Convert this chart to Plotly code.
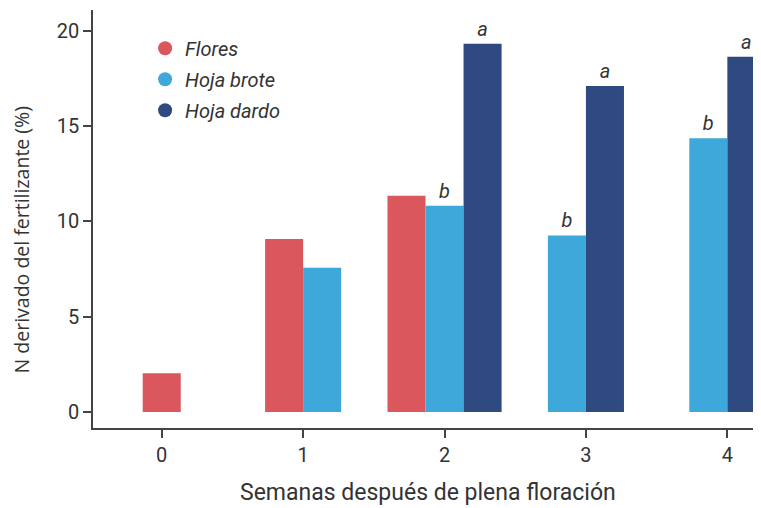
import plotly.graph_objects as go

weeks = [0, 1, 2, 3, 4]
series_names = ["Flores", "Hoja brote", "Hoja dardo"]
flores = [2.03, 9.08, 11.35, None, None]
hoja_brote = [None, 7.57, 10.83, 9.27, 14.37]
hoja_dardo = [None, None, 19.33, 17.11, 18.64]
letters_flores = ["", "", "", "", ""]
letters_brote = ["", "", "b", "b", "b"]
letters_dardo = ["", "", "a", "a", "a"]
colors = ["#D9575D", "#3EA8DA", "#2F4A80"]

all_vals = [flores, hoja_brote, hoja_dardo]
all_letters = [letters_flores, letters_brote, letters_dardo]
bar_w = 0.269

fig = go.Figure()
for s, (name, vals, lets, col) in enumerate(zip(series_names, all_vals, all_letters, colors)):
    offsets = []
    for i in range(len(weeks)):
        present = [j for j in range(len(all_vals)) if all_vals[j][i] is not None]
        if s in present:
            k = present.index(s)
            offsets.append((k - len(present) / 2) * bar_w)
        else:
            offsets.append(0)
    fig.add_trace(go.Bar(
        x=weeks, y=vals, width=bar_w, offset=offsets,
        marker=dict(color=col, line=dict(width=0)),
        text=lets, textposition="outside", constraintext="none",
        textfont=dict(family="Roboto", size=20, color="#333333", style="italic"),
        cliponaxis=False, showlegend=False, name=name,
    ))

for name, col in zip(series_names, colors):
    fig.add_trace(go.Scatter(
        x=[None], y=[None], mode="markers", name=name,
        marker=dict(color=col, size=14, symbol="circle"),
        legendgroup=name,
    ))

fig.update_layout(
    width=761, height=508,
    margin=dict(l=85, r=8, t=2, b=88),
    plot_bgcolor="white", paper_bgcolor="white",
    barmode="overlay",
    font=dict(family="Roboto", color="#333333"),
    legend=dict(
        x=0.078, y=0.955, xanchor="left", yanchor="top",
        font=dict(family="Roboto", size=20, color="#333333", style="italic"),
        tracegroupgap=2, bgcolor="rgba(0,0,0,0)",
    ),
    xaxis=dict(
        range=[-0.486, 4.238], tickmode="array", tickvals=weeks,
        ticktext=[str(w) for w in weeks],
        showline=True, linecolor="#444444", linewidth=1.5,
        ticks="outside", ticklen=8, tickcolor="#444444", tickwidth=1.5,
        showgrid=False, zeroline=False,
        tickfont=dict(size=20, color="#333333"),
    ),
    yaxis=dict(
        range=[-0.84, 21.1], tickvals=[0, 5, 10, 15, 20],
        showline=True, linecolor="#444444", linewidth=1.5,
        ticks="outside", ticklen=8, tickcolor="#444444", tickwidth=1.5,
        showgrid=False, zeroline=False,
        tickfont=dict(size=20, color="#333333"),
    ),
    annotations=[
        dict(
            text="N derivado del fertilizante (%)", textangle=-90,
            xref="paper", yref="paper", x=-0.107, y=0.45,
            xanchor="center", yanchor="middle", showarrow=False,
            borderpad=0,
            font=dict(family="Open Sans", size=19.5, color="#333333"),
        ),
        dict(
            text="Semanas después de plena floración",
            xref="paper", yref="paper", x=0.5015, y=-0.1555,
            xanchor="center", yanchor="middle", showarrow=False,
            font=dict(family="Roboto", size=23, color="#333333"),
        ),
    ],
)

fig.write_html("out.html")
